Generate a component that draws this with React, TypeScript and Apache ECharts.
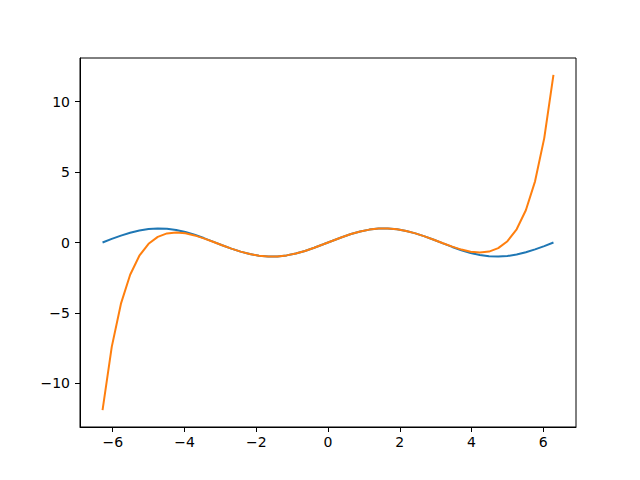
import React, { useEffect, useRef } from "react";
import * as echarts from "echarts";

const xValues = [
  -6.2832, -6.0267, -5.7703, -5.5138, -5.2574, -5.0009, -4.7444, -4.488, -4.2315, -3.9751,
  -3.7186, -3.4622, -3.2057, -2.9493, -2.6928, -2.4363, -2.1799, -1.9234, -1.667, -1.4105,
  -1.1541, -0.8976, -0.6412, -0.3847, -0.1283, 0.1283, 0.3847, 0.6412, 0.8976, 1.1541,
  1.4105, 1.667, 1.9234, 2.1799, 2.4363, 2.6928, 2.9493, 3.2057, 3.4622, 3.7186,
  3.9751, 4.2315, 4.488, 4.7444, 5.0009, 5.2574, 5.5138, 5.7703, 6.0267, 6.2832,
];

const sinValues = [
  0.0, 0.2537, 0.4907, 0.6957, 0.8551, 0.9587, 0.9995, 0.9749, 0.8866, 0.7403,
  0.5455, 0.3151, 0.0641, -0.1912, -0.4339, -0.6482, -0.8202, -0.9385, -0.9954, -0.9872,
  -0.9144, -0.7818, -0.5981, -0.3753, -0.1279, 0.1279, 0.3753, 0.5981, 0.7818, 0.9144,
  0.9872, 0.9954, 0.9385, 0.8202, 0.6482, 0.4339, 0.1912, -0.0641, -0.3151, -0.5455,
  -0.7403, -0.8866, -0.9749, -0.9995, -0.9587, -0.8551, -0.6957, -0.4907, -0.2537, 0.0,
];

const taylorValues = [
  -11.8997, -7.4065, -4.3401, -2.2837, -0.938, -0.0919, 0.402, 0.646, 0.7121, 0.6512,
  0.5023, 0.2952, 0.0555, -0.1946, -0.4352, -0.6486, -0.8203, -0.9385, -0.9954, -0.9872,
  -0.9144, -0.7818, -0.5981, -0.3753, -0.1279, 0.1279, 0.3753, 0.5981, 0.7818, 0.9144,
  0.9872, 0.9954, 0.9385, 0.8203, 0.6486, 0.4352, 0.1946, -0.0555, -0.2952, -0.5023,
  -0.6512, -0.7121, -0.646, -0.402, 0.0919, 0.938, 2.2837, 4.3401, 7.4065, 11.8997,
];

const xTicks = [-6, -4, -2, 0, 2, 4, 6];
const yTicks = [-10, -5, 0, 5, 10];

const fmt = (v: number) => String(v).replace("-", "\u2212");

export default function App() {
  const ref = useRef<HTMLDivElement>(null);
  useEffect(() => {
    if (!ref.current) return;
    const chart = echarts.init(ref.current, null, { renderer: "svg" });
    const xSpan = xValues[xValues.length - 1] - xValues[0];
    const xMin = xValues[0] - xSpan * 0.05;
    const xMax = xValues[xValues.length - 1] + xSpan * 0.05;
    const yLo = Math.min(...taylorValues, ...sinValues);
    const yHi = Math.max(...taylorValues, ...sinValues);
    const ySpan = yHi - yLo;
    const yMin = yLo - ySpan * 0.05;
    const yMax = yHi + ySpan * 0.05;
    const labelStyle = {
      color: "#000",
      fontSize: 14,
      fontFamily: "DejaVu Sans",
    };
    chart.setOption({
      animation: false,
      backgroundColor: "#fff",
      grid: {
        left: 80,
        right: 64,
        top: 58,
        bottom: 53,
        show: true,
        borderColor: "#000",
        borderWidth: 1,
        backgroundColor: "transparent",
      },
      xAxis: {
        type: "value",
        min: xMin,
        max: xMax,
        splitLine: { show: false },
        axisLine: { show: true, onZero: false, lineStyle: { color: "#000", width: 1 } },
        axisTick: {
          show: true,
          length: 5,
          lineStyle: { color: "#000", width: 1 },
          customValues: xTicks,
        },
        axisLabel: {
          ...labelStyle,
          margin: 8,
          customValues: xTicks,
          formatter: (v: number) => fmt(v),
        },
      },
      yAxis: {
        type: "value",
        min: yMin,
        max: yMax,
        splitLine: { show: false },
        axisLine: { show: true, onZero: false, lineStyle: { color: "#000", width: 1 } },
        axisTick: {
          show: true,
          length: 5,
          lineStyle: { color: "#000", width: 1 },
          customValues: yTicks,
        },
        axisLabel: {
          ...labelStyle,
          margin: 10,
          customValues: yTicks,
          formatter: (v: number) => fmt(v),
        },
      },
      series: [
        {
          type: "line",
          name: "sin",
          data: xValues.map((x, i) => [x, sinValues[i]]),
          showSymbol: false,
          symbol: "none",
          lineStyle: { color: "#1f77b4", width: 2 },
          z: 2,
        },
        {
          type: "line",
          name: "taylor",
          data: xValues.map((x, i) => [x, taylorValues[i]]),
          showSymbol: false,
          symbol: "none",
          lineStyle: { color: "#ff7f0e", width: 2 },
          z: 3,
        },
      ],
    });
    return () => chart.dispose();
  }, []);
  return (
    <div
      ref={ref}
      style={{ position: "fixed", left: 0, top: 0, width: 640, height: 480 }}
    />
  );
}
